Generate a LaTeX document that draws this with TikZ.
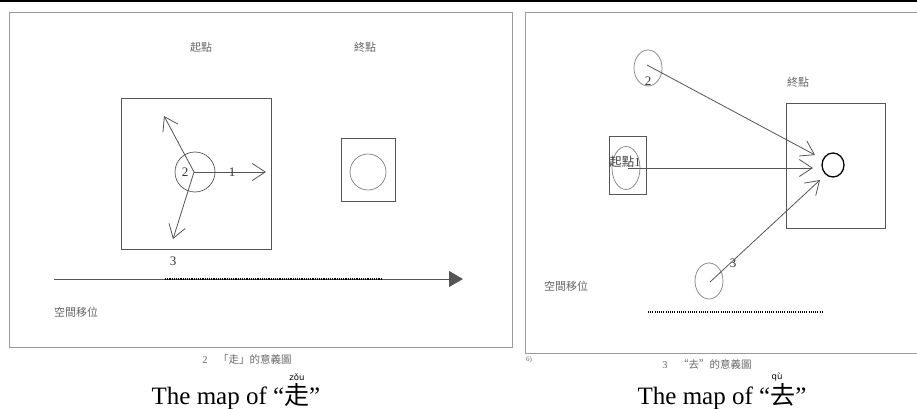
\documentclass[tikz,border=0pt]{standalone}
\usepackage{fontspec}
\setmainfont{Liberation Serif}
\newfontfamily\cjk{Noto Sans CJK TC}
\newfontfamily\pyfont{DejaVu Sans}
\usetikzlibrary{arrows.meta,shapes.geometric}
\definecolor{framegray}{HTML}{9A9A9A}
\definecolor{linegray}{HTML}{555555}
\definecolor{textgray}{HTML}{666666}
\tikzset{
  frame/.style={draw=framegray, line width=1pt},
  box/.style={draw=linegray, line width=0.9pt},
  ring/.style={draw=gray, line width=0.7pt},
  barb/.style={draw=linegray, line width=0.8pt, -{Straight Barb[length=13pt,width=17pt]}},
  cjklab/.style={font=\cjk\fontsize{11}{13}\selectfont, text=textgray, inner sep=0pt},
  numlab/.style={font=\fontsize{13}{15}\selectfont, text=black!80, inner sep=0pt},
  capsmall/.style={font=\fontsize{10.5}{12}\selectfont, text=textgray, inner sep=0pt},
  capbig/.style={font=\fontsize{25}{28}\selectfont, inner sep=0pt},
  pinyin/.style={font=\pyfont\fontsize{8.5}{10}\selectfont, inner sep=0pt},
}
\begin{document}
\begin{tikzpicture}[x=1pt,y=-1pt]
\useasboundingbox (0,0) rectangle (917,409);
% top rule
\coordinate (tl) at (0,1.5);
\coordinate (tr) at (917,1.5);
\draw[line width=2pt] (tl) -- (tr);

% ===== left panel =====
\node[frame, minimum width=503pt, minimum height=334pt, inner sep=0pt] (lframe) at (260.5,180) {};
\node[cjklab] (lstart) at (201,47) {起點};
\node[cjklab] (lend) at (365,47) {終點};
\node[box, minimum width=150pt, minimum height=151pt, inner sep=0pt] (lbig) at (196,173.5) {};
\node[circle, ring, draw=linegray, minimum size=40pt, inner sep=0pt] (lcirc) at (195,172) {};
\coordinate (lc) at (194,172);
\coordinate (l1) at (266,172);
\coordinate (l2) at (164,116);
\coordinate (l3) at (173,239);
\draw[barb] (lc) -- (l1);
\draw[barb] (lc) -- (l2);
\draw[barb] (lc) -- (l3);
\node[numlab] (ln2) at (185,172) {2};
\node[numlab] (ln1) at (232,172) {1};
\node[numlab] (ln3) at (173,261) {3};
\node[box, minimum width=54pt, minimum height=63pt, inner sep=0pt] (lsmall) at (368,169.5) {};
\node[circle, ring, minimum size=36pt, inner sep=0pt] (lsc) at (368,172) {};
\coordinate (la) at (54,279);
\coordinate (lb) at (463,279);
\draw[line width=0.8pt, draw=linegray, -{Triangle[length=14pt,width=16pt]}] (la) -- (lb);
\coordinate (lda) at (165,279);
\coordinate (ldb) at (382,279);
\draw[line width=2.6pt, dash pattern=on 1.2pt off 1pt] (lda) -- (ldb);
\node[cjklab] (lmove) at (76,312) {空間移位};
\node[capsmall] (lcap) at (247,359) {2\quad{\cjk 「走」的意義圖}};
\node[capbig] (ltitle) at (236,397) {The map of “{\cjk 走}”};
\node[pinyin] (lpy) at (297,377) {zǒu};

% ===== right panel =====
\node[frame, minimum width=400pt, minimum height=340pt, inner sep=0pt] (rframe) at (725,183) {};
\node[ellipse, ring, minimum width=28pt, minimum height=36pt, inner sep=0pt] (rc2) at (648,68) {};
\node[numlab] (rn2) at (648,81) {2};
\node[cjklab] (rend) at (798,82) {終點};
\node[box, minimum width=99pt, minimum height=125pt, inner sep=0pt] (rbig) at (835.5,165.5) {};
\node[ellipse, draw=black, line width=1.3pt, minimum width=22pt, minimum height=24pt, inner sep=0pt] (rO) at (833,165) {};
\node[box, minimum width=37pt, minimum height=58pt, inner sep=0pt] (rsmall) at (627.5,165) {};
\node[ellipse, ring, minimum width=28pt, minimum height=43pt, inner sep=0pt] (rc1) at (626,168) {};
\node[font=\fontsize{12.5}{14}\selectfont, text=black!75, inner sep=0pt] (rstart) at (625,162) {{\cjk 起點}1};
\node[ellipse, ring, minimum width=28pt, minimum height=36pt, inner sep=0pt] (rc3) at (709,281) {};
\node[numlab] (rn3) at (733,263) {3};
\coordinate (r2s) at (647,65);
\coordinate (r2e) at (815,155);
\coordinate (r1s) at (628,168);
\coordinate (r1e) at (813,168);
\coordinate (r3s) at (710,282);
\coordinate (r3e) at (820,180);
\draw[barb] (r2s) -- (r2e);
\draw[barb] (r1s) -- (r1e);
\draw[barb] (r3s) -- (r3e);
\node[cjklab] (rmove) at (566,286) {空間移位};
\coordinate (rda) at (648,312);
\coordinate (rdb) at (823,312);
\draw[line width=1.4pt, dash pattern=on 1pt off 1.2pt] (rda) -- (rdb);
\node[font=\fontsize{7}{8}\selectfont, text=textgray, inner sep=0pt] (rsix) at (529,360) {6)};
\node[capsmall] (rcap) at (707,364) {3\quad{\cjk “去”的意義圖}};
\node[capbig] (rtitle) at (722,397) {The map of “{\cjk 去}”};
\node[pinyin] (rpy) at (777,377) {qù};
\end{tikzpicture}
\end{document}
